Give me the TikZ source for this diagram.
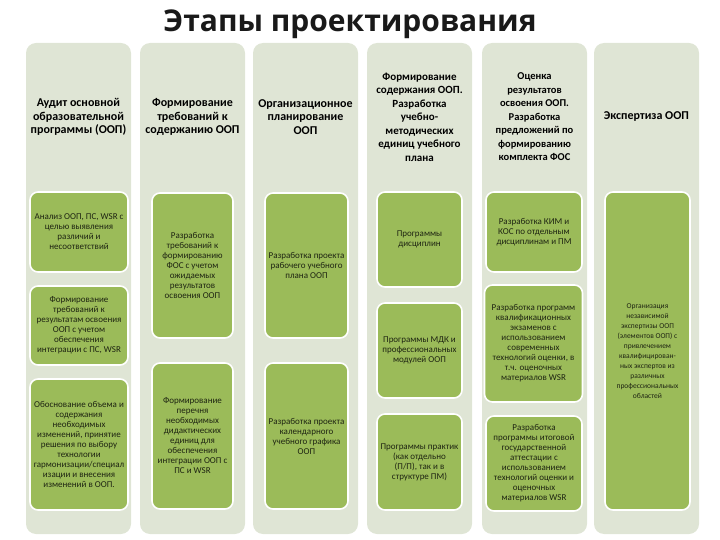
\documentclass[tikz,border=0pt]{standalone}
\usepackage{fontspec}
\setmainfont{Carlito}
\newfontfamily\titlefont{Open Sans}
\definecolor{colbg}{HTML}{DFE5D5}
\definecolor{ingreen}{HTML}{9BBB59}
\definecolor{intext}{HTML}{1E2412}
\begin{document}
\begin{tikzpicture}[x=1pt,y=-1pt,
  colbox/.style={draw=none,fill=colbg,rounded corners=10pt,minimum width=105pt,minimum height=491pt,inner sep=0pt},
  inbox/.style={draw=white,line width=1.6pt,fill=ingreen,rounded corners=8pt,align=center,inner sep=0pt,text=intext,font=\fontsize{9}{10}\selectfont},
  head/.style={align=center,text=black,font=\bfseries\fontsize{12}{13.5}\selectfont},
  ttl/.style={text=black!90,font=\titlefont\bfseries\fontsize{30}{34}\selectfont}]
\useasboundingbox (0,0) rectangle (720,540);
\node[ttl] (title) at (350,24) {Этапы проектирования};
% columns
\node[colbox] (c1) at (78.5,288.5) {};
\node[colbox] (c2) at (192.5,288.5) {};
\node[colbox] (c3) at (305.5,288.5) {};
\node[colbox] (c4) at (419.5,288.5) {};
\node[colbox] (c5) at (534.5,288.5) {};
\node[colbox] (c6) at (646.5,288.5) {};
% headers
\node[head] (h1) at (78.5,117) {Аудит основной\\образовательной\\программы (ООП)};
\node[head] (h2) at (192.5,117) {Формирование\\требований к\\содержанию ООП};
\node[head] (h3) at (305.5,117) {Организационное\\планирование\\ООП};
\node[head,font=\bfseries\fontsize{11}{13.5}\selectfont] (h4) at (419.5,117) {Формирование\\содержания ООП.\\Разработка\\учебно-\\методических\\единиц учебного\\плана};
\node[head,font=\bfseries\fontsize{10.5}{13.5}\selectfont] (h5) at (534.5,117) {Оценка\\результатов\\освоения ООП.\\Разработка\\предложений по\\формированию\\комплекта ФОС};
\node[head] (h6) at (646.5,117) {Экспертиза ООП};
% column 1
\node[inbox,minimum width=98pt,minimum height=80pt] (b11) at (79,232) {Анализ ООП, ПС, WSR с\\целью выявления\\различий и\\несоответствий};
\node[inbox,minimum width=98pt,minimum height=79pt] (b12) at (79,325.5) {Формирование\\требований к\\результатам освоения\\ООП с учетом\\обеспечения\\интеграции с ПС, WSR};
\node[inbox,minimum width=98pt,minimum height=131pt] (b13) at (79,444.5) {Обоснование объема и\\содержания\\необходимых\\изменений, принятие\\решения по выбору\\технологии\\гармонизации/специал\\изации и внесения\\изменений в ООП.};
% column 2
\node[inbox,minimum width=81pt,minimum height=145pt] (b21) at (192.5,265.5) {Разработка\\требований к\\формированию\\ФОС с учетом\\ожидаемых\\результатов\\освоения ООП};
\node[inbox,minimum width=81pt,minimum height=146pt] (b22) at (192.5,436) {Формирование\\перечня\\необходимых\\дидактических\\единиц для\\обеспечения\\интеграции ООП с\\ПС и WSR};
% column 3
\node[inbox,minimum width=83pt,minimum height=145pt] (b31) at (306.5,265.5) {Разработка проекта\\рабочего учебного\\плана ООП};
\node[inbox,minimum width=83pt,minimum height=146pt] (b32) at (306.5,436) {Разработка проекта\\календарного\\учебного графика\\ООП};
% column 4
\node[inbox,minimum width=85pt,minimum height=95pt] (b41) at (419.5,239.5) {Программы\\дисциплин};
\node[inbox,minimum width=85pt,minimum height=95pt] (b42) at (419.5,350.5) {Программы МДК и\\профессиональных\\модулей ООП};
\node[inbox,minimum width=85pt,minimum height=96pt] (b43) at (419.5,462) {Программы практик\\(как отдельно\\(П/П), так и в\\структуре ПМ)};
% column 5
\node[inbox,minimum width=96pt,minimum height=80pt] (b51) at (534,232) {Разработка КИМ и\\КОС по отдельным\\дисциплинам и ПМ};
\node[inbox,minimum width=98pt,minimum height=117pt] (b52) at (533.5,343.5) {Разработка программ\\квалификационных\\экзаменов с\\использованием\\современных\\технологий оценки, в\\т.ч. оценочных\\материалов WSR};
\node[inbox,minimum width=96pt,minimum height=95pt] (b53) at (534,463.5) {Разработка\\программы итоговой\\государственной\\аттестации с\\использованием\\технологий оценки и\\оценочных\\материалов WSR};
% column 6
\node[inbox,minimum width=85pt,minimum height=318pt,font=\fontsize{7.5}{10}\selectfont] (b61) at (647.5,351) {Организация\\независимой\\экспертизы ООП\\(элементов ООП) с\\привлечением\\квалифицирован-\\ных экспертов из\\различных\\профессиональных\\областей};
\end{tikzpicture}
\end{document}
